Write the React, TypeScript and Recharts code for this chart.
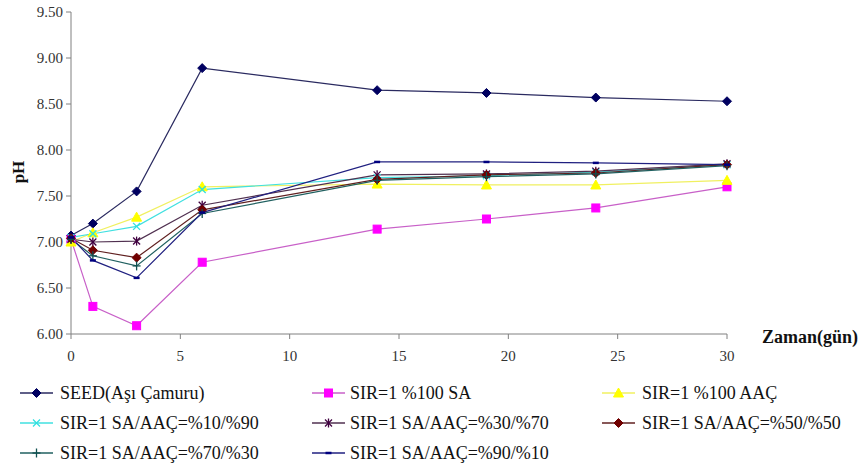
import React from "react";
import { LineChart, Line, XAxis, YAxis } from "recharts";

const days = [0, 1, 3, 6, 14, 19, 24, 30];
const seed = [7.07, 7.2, 7.55, 8.89, 8.65, 8.62, 8.57, 8.53];
const sa100 = [7.03, 6.3, 6.09, 6.78, 7.14, 7.25, 7.37, 7.6];
const aac100 = [7.0, 7.1, 7.27, 7.6, 7.63, 7.62, 7.62, 7.67];
const mix10 = [7.05, 7.09, 7.17, 7.57, 7.7, 7.72, 7.76, 7.84];
const mix30 = [7.03, 7.0, 7.01, 7.4, 7.73, 7.74, 7.77, 7.85];
const mix50 = [7.04, 6.91, 6.83, 7.35, 7.68, 7.73, 7.75, 7.84];
const mix70 = [7.03, 6.85, 6.74, 7.31, 7.67, 7.71, 7.74, 7.83];
const mix90 = [7.05, 6.8, 6.61, 7.32, 7.87, 7.87, 7.86, 7.84];

const xTicks = [0, 5, 10, 15, 20, 25, 30];
const yTicks = [6.0, 6.5, 7.0, 7.5, 8.0, 8.5, 9.0, 9.5];

const seriesNames = [
  "SEED(Aşı Çamuru)",
  "SIR=1 %100 SA",
  "SIR=1 %100 AAÇ",
  "SIR=1 SA/AAÇ=%10/%90",
  "SIR=1 SA/AAÇ=%30/%70",
  "SIR=1 SA/AAÇ=%50/%50",
  "SIR=1 SA/AAÇ=%70/%30",
  "SIR=1 SA/AAÇ=%90/%10",
];
const seriesValues = [seed, sa100, aac100, mix10, mix30, mix50, mix70, mix90];
const lineColors = ["#2a2a60", "#c860c8", "#f0f060", "#40e0e0", "#503050", "#602020", "#206060", "#202080"];
const markerColors = ["#000060", "#ff00ff", "#ffff00", "#30e0e0", "#400040", "#700000", "#105050", "#000080"];
const markerShapes = ["diamond", "square", "triangle", "x", "star", "diamond", "plus", "dash"];

const data = days.map((d, i) => {
  const row: any = { day: d };
  seriesValues.forEach((vals, s) => {
    row["s" + s] = vals[i];
  });
  return row;
});

const FONT = "Times New Roman, Liberation Serif, DejaVu Serif, serif";

function Marker({ shape, cx, cy, color }: any) {
  switch (shape) {
    case "diamond":
      return <polygon points={`${cx},${cy - 4.5} ${cx + 4.5},${cy} ${cx},${cy + 4.5} ${cx - 4.5},${cy}`} fill={color} stroke={color} />;
    case "square":
      return <rect x={cx - 4} y={cy - 4} width={8} height={8} fill={color} stroke={color} />;
    case "triangle":
      return <polygon points={`${cx},${cy - 5} ${cx + 5},${cy + 4} ${cx - 5},${cy + 4}`} fill={color} stroke={color} />;
    case "x":
      return (
        <g stroke={color} strokeWidth={1.3}>
          <line x1={cx - 3.5} y1={cy - 3.5} x2={cx + 3.5} y2={cy + 3.5} />
          <line x1={cx - 3.5} y1={cy + 3.5} x2={cx + 3.5} y2={cy - 3.5} />
        </g>
      );
    case "star":
      return (
        <g stroke={color} strokeWidth={1.3}>
          <line x1={cx - 3.5} y1={cy - 3.5} x2={cx + 3.5} y2={cy + 3.5} />
          <line x1={cx - 3.5} y1={cy + 3.5} x2={cx + 3.5} y2={cy - 3.5} />
          <line x1={cx} y1={cy - 4.5} x2={cx} y2={cy + 4.5} />
        </g>
      );
    case "plus":
      return (
        <g stroke={color} strokeWidth={1.3}>
          <line x1={cx - 4} y1={cy} x2={cx + 4} y2={cy} />
          <line x1={cx} y1={cy - 4.5} x2={cx} y2={cy + 4.5} />
        </g>
      );
    case "dash":
      return <line x1={cx - 3} y1={cy} x2={cx + 3} y2={cy} stroke={color} strokeWidth={2.5} />;
    default:
      return null;
  }
}

const legendCols = [
  { lx: 20, tx: 60 },
  { lx: 312, tx: 350 },
  { lx: 602, tx: 642 },
];
const legendRowsY = [393, 423, 453];

export default function App() {
  return (
    <div style={{ position: "absolute", left: 0, top: 0, width: 859, height: 466, background: "#fff", fontFamily: FONT }}>
      <LineChart
        width={859}
        height={466}
        data={data}
        margin={{ top: 12, right: 132, left: 0, bottom: 102 }}
        style={{ fontFamily: FONT }}
      >
        <XAxis
          dataKey="day"
          type="number"
          domain={[0, 30]}
          ticks={xTicks}
          interval={0}
          height={30}
          stroke="#808080"
          tickSize={5}
          tickMargin={11}
          tick={{ fill: "#333", fontSize: 15, fontFamily: FONT }}
          label={{
            content: (p: any) => {
              const vb = p.viewBox || {};
              return (
                <text
                  x={vb.x + vb.width + 35}
                  y={vb.y + 3}
                  dy="0.35em"
                  fontFamily={FONT}
                  fontWeight="bold"
                  fontSize={18}
                  fill="#111"
                >
                  Zaman(gün)
                </text>
              );
            },
          }}
        />
        <YAxis
          type="number"
          domain={[6, 9.5]}
          ticks={yTicks}
          interval={0}
          width={71}
          stroke="#808080"
          tickSize={5}
          tickMargin={3}
          tickFormatter={(v: number) => v.toFixed(2)}
          tick={{ fill: "#333", fontSize: 15, fontFamily: FONT }}
          label={{
            content: () => (
              <text
                x={18}
                y={172}
                transform="rotate(-90 18 172)"
                textAnchor="middle"
                dominantBaseline="central"
                fontFamily={FONT}
                fontWeight="bold"
                fontSize={17}
                fill="#111"
              >
                pH
              </text>
            ),
          }}
        />
        {seriesNames.map((name, s) => (
          <Line
            key={name}
            type="linear"
            dataKey={"s" + s}
            name={name}
            stroke={lineColors[s]}
            strokeWidth={1.2}
            isAnimationActive={false}
            dot={(p: any) => (
              <Marker key={`d${s}-${p.index}`} shape={markerShapes[s]} cx={p.cx} cy={p.cy} color={markerColors[s]} />
            )}
            activeDot={false}
          />
        ))}
      </LineChart>
      {seriesNames.map((name, s) => {
        const col = legendCols[s % 3];
        const y = legendRowsY[Math.floor(s / 3)];
        return (
          <React.Fragment key={"lg" + s}>
            <svg
              style={{ position: "absolute", left: col.lx, top: y - 6 }}
              width={34}
              height={12}
            >
              <line x1={0} y1={6} x2={33} y2={6} stroke={lineColors[s]} strokeWidth={1.3} />
              <Marker shape={markerShapes[s]} cx={16.5} cy={6} color={markerColors[s]} />
            </svg>
            <div
              style={{
                position: "absolute",
                left: col.tx,
                top: y - 11,
                fontFamily: FONT,
                fontSize: 18,
                lineHeight: "22px",
                color: "#111",
                whiteSpace: "nowrap",
              }}
            >
              {name}
            </div>
          </React.Fragment>
        );
      })}
    </div>
  );
}
